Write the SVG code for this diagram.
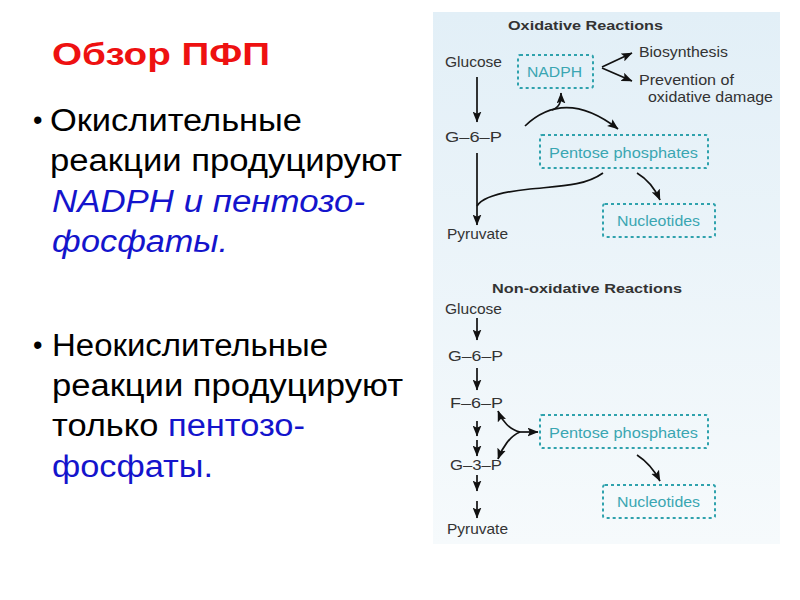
<svg xmlns="http://www.w3.org/2000/svg" width="800" height="600" viewBox="0 0 800 600">
<defs>
<linearGradient id="bg" x1="0" y1="0" x2="0" y2="1">
<stop offset="0" stop-color="#e2eff7"/>
<stop offset="1" stop-color="#f6fafc"/>
</linearGradient>
<marker id="ah" viewBox="0 0 10 8" markerWidth="11" markerHeight="9" refX="9.5" refY="4" orient="auto" markerUnits="userSpaceOnUse">
<path d="M0,0 L10,4 L0,8 L2,4 z" fill="#111"/>
</marker>
<style>
.t{font-family:"Liberation Sans",Arial,sans-serif}
.title{font-size:31px;font-weight:bold;fill:#ee1111}
.body{font-size:31px;fill:#000}
.bul{font-size:27px;fill:#000}
.blue{fill:#1414cc}
.lab{font-size:14.5px;fill:#333}
.hd{font-size:13.5px;font-weight:bold;fill:#333}
.bt{font-size:14.5px;fill:#3aa6b2}
.box{fill:none;stroke:#2fa2ad;stroke-width:2;stroke-dasharray:3 3}
.ar{fill:none;stroke:#111;stroke-width:1.7;marker-end:url(#ah)}
</style>
</defs>
<rect width="800" height="600" fill="#ffffff"/>
<rect x="433" y="12" width="347" height="532" fill="url(#bg)"/>

<g id="left-text" class="t">
<text class="title" x="52" y="65" textLength="218" lengthAdjust="spacingAndGlyphs">Обзор ПФП</text>
<text class="bul" x="33" y="129">•</text>
<text class="body" x="50" y="131" textLength="252" lengthAdjust="spacingAndGlyphs">Окислительные</text>
<text class="body" x="50" y="171" textLength="352" lengthAdjust="spacingAndGlyphs">реакции продуцируют</text>
<text class="body blue" x="52" y="212" font-style="italic" textLength="313" lengthAdjust="spacingAndGlyphs">NADPH и пентозо-</text>
<text class="body blue" x="52" y="252" font-style="italic" textLength="176" lengthAdjust="spacingAndGlyphs">фосфаты.</text>
<text class="bul" x="33" y="354">•</text>
<text class="body" x="52" y="356" textLength="276" lengthAdjust="spacingAndGlyphs">Неокислительные</text>
<text class="body" x="52" y="396" textLength="351" lengthAdjust="spacingAndGlyphs">реакции продуцируют</text>
<text class="body" x="52" y="436" textLength="253" lengthAdjust="spacingAndGlyphs">только <tspan class="blue">пентозо-</tspan></text>
<text class="body blue" x="52" y="477" textLength="161" lengthAdjust="spacingAndGlyphs">фосфаты.</text>
</g>

<g id="ox-title" class="t"><text class="hd" x="508" y="30" textLength="155" lengthAdjust="spacingAndGlyphs">Oxidative Reactions</text></g>
<g id="ox-glucose" class="t"><text class="lab" x="445" y="67" textLength="57" lengthAdjust="spacingAndGlyphs">Glucose</text></g>
<g id="ox-nadph"><rect class="box" x="518" y="55" width="75" height="33" rx="2"/><text class="t bt" x="527" y="76.5" textLength="55" lengthAdjust="spacingAndGlyphs">NADPH</text></g>
<g id="ox-biosynthesis" class="t"><text class="lab" x="639" y="57" textLength="89" lengthAdjust="spacingAndGlyphs">Biosynthesis</text></g>
<g id="ox-prevention" class="t"><text class="lab" x="639" y="85" textLength="95" lengthAdjust="spacingAndGlyphs">Prevention of</text><text class="lab" x="648" y="101.5" textLength="125" lengthAdjust="spacingAndGlyphs">oxidative damage</text></g>
<g id="ox-g6p" class="t"><text class="lab" x="445" y="142" textLength="57" lengthAdjust="spacingAndGlyphs">G–6–P</text></g>
<g id="ox-pentose"><rect class="box" x="540" y="135" width="168" height="33" rx="2"/><text class="t bt" x="549" y="157.5" textLength="149" lengthAdjust="spacingAndGlyphs">Pentose phosphates</text></g>
<g id="ox-nucleotides"><rect class="box" x="603" y="204" width="112" height="33" rx="2"/><text class="t bt" x="617" y="225.5" textLength="83" lengthAdjust="spacingAndGlyphs">Nucleotides</text></g>
<g id="ox-pyruvate" class="t"><text class="lab" x="447" y="239" textLength="61" lengthAdjust="spacingAndGlyphs">Pyruvate</text></g>

<g id="nox-title" class="t"><text class="hd" x="492" y="293" textLength="190" lengthAdjust="spacingAndGlyphs">Non-oxidative Reactions</text></g>
<g id="nox-glucose" class="t"><text class="lab" x="445" y="314" textLength="57" lengthAdjust="spacingAndGlyphs">Glucose</text></g>
<g id="nox-g6p" class="t"><text class="lab" x="448" y="361" textLength="55" lengthAdjust="spacingAndGlyphs">G–6–P</text></g>
<g id="nox-f6p" class="t"><text class="lab" x="450" y="408" textLength="53" lengthAdjust="spacingAndGlyphs">F–6–P</text></g>
<g id="nox-g3p" class="t"><text class="lab" x="450" y="470" textLength="52" lengthAdjust="spacingAndGlyphs">G–3–P</text></g>
<g id="nox-pyruvate" class="t"><text class="lab" x="447" y="534" textLength="61" lengthAdjust="spacingAndGlyphs">Pyruvate</text></g>
<g id="nox-pentose"><rect class="box" x="540" y="415" width="168" height="33" rx="2"/><text class="t bt" x="549" y="437.5" textLength="149" lengthAdjust="spacingAndGlyphs">Pentose phosphates</text></g>
<g id="nox-nucleotides"><rect class="box" x="603" y="485" width="112" height="33" rx="2"/><text class="t bt" x="617" y="506.5" textLength="83" lengthAdjust="spacingAndGlyphs">Nucleotides</text></g>

<g id="connectors">
<path class="ar" d="M477,77 L477,122"/>
<path class="ar" d="M602,67 L632,53"/>
<path class="ar" d="M602,68 L632,81"/>
<path class="ar" d="M525,126 Q565,88 618,129"/>
<path class="ar" d="M552,110 C560,107 561,102 561,93"/>
<path class="ar" d="M477,153 L477,225"/>
<path fill="none" stroke="#111" stroke-width="1.7" d="M603,173 C585,186 560,186 530,189 C500,192 482,198 477,206"/>
<path class="ar" d="M637,173 Q652,182 660,200"/>

<path class="ar" d="M477,318 L477,340"/>
<path class="ar" d="M477,368 L477,390"/>
<path class="ar" d="M477,421 L477,436"/>
<path class="ar" d="M477,440 L477,456"/>
<path class="ar" d="M477,475 L477,491"/>
<path class="ar" d="M477,501 L477,518"/>
<path class="ar" d="M518,432 L538,432"/>
<path class="ar" d="M520,432 C510,430 502,421 498,411"/>
<path class="ar" d="M520,432 C510,436 502,448 498,459"/>
<path class="ar" d="M637,455 Q651,464 660,481"/>
</g>
</svg>
